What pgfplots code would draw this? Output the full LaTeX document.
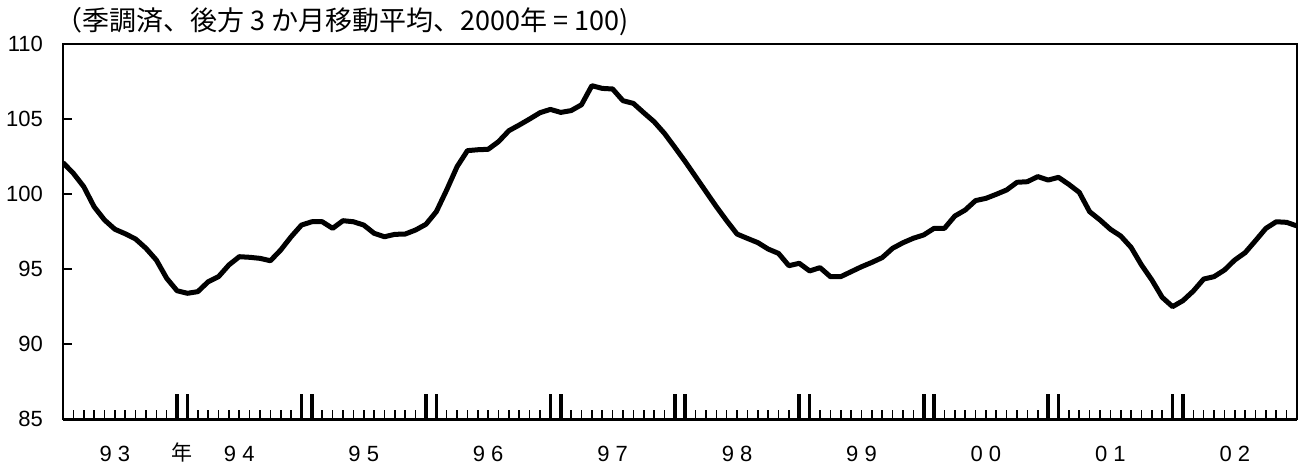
\documentclass[border=0pt]{standalone}
\usepackage{fontspec}
\setmainfont{Liberation Sans}
\newfontfamily\cjk{Noto Sans CJK JP}
\usepackage{pgfplots}
\pgfplotsset{compat=1.18}

% seasonally adjusted index, 3-month backward moving average, monthly 1993-2002
\pgfplotstableread{
m v
0 102.09
1 101.38
2 100.49
3 99.15
4 98.27
5 97.65
6 97.35
7 97.0
8 96.38
9 95.6
10 94.38
11 93.55
12 93.38
13 93.49
14 94.15
15 94.49
16 95.27
17 95.82
18 95.78
19 95.71
20 95.55
21 96.27
22 97.15
23 97.93
24 98.15
25 98.15
26 97.71
27 98.22
28 98.15
29 97.93
30 97.38
31 97.15
32 97.31
33 97.33
34 97.6
35 97.98
36 98.82
37 100.27
38 101.82
39 102.89
40 102.95
41 102.98
42 103.49
43 104.22
44 104.6
45 105.0
46 105.42
47 105.64
48 105.44
49 105.56
50 105.95
51 107.22
52 107.04
53 107.0
54 106.22
55 106.04
56 105.42
57 104.82
58 104.04
59 103.11
60 102.16
61 101.16
62 100.16
63 99.16
64 98.22
65 97.33
66 97.04
67 96.76
68 96.33
69 96.04
70 95.22
71 95.38
72 94.87
73 95.09
74 94.49
75 94.49
76 94.82
77 95.15
78 95.44
79 95.76
80 96.38
81 96.75
82 97.05
83 97.27
84 97.71
85 97.71
86 98.53
87 98.93
88 99.56
89 99.71
90 99.98
91 100.27
92 100.78
93 100.82
94 101.16
95 100.93
96 101.11
97 100.64
98 100.11
99 98.82
100 98.27
101 97.65
102 97.2
103 96.44
104 95.27
105 94.27
106 93.11
107 92.49
108 92.89
109 93.53
110 94.33
111 94.49
112 94.93
113 95.6
114 96.09
115 96.89
116 97.71
117 98.15
118 98.11
119 97.87
}\idx

\begin{document}
\begin{tikzpicture}
\begin{axis}[
    name=main,
    scale only axis,
    width=617pt, height=187.5pt,
    xmin=0, xmax=119, ymin=85, ymax=110,
    axis line style={line width=1pt, draw=black},
    tick style={black},
    tick align=inside,
    xtick pos=bottom, ytick pos=left,
    /pgf/number format/assume math mode=true,
    % y: labels from major ticks, marks drawn as minor ticks
    ytick={85,90,...,110},
    major y tick style={draw=none},
    minor ytick={90,95,...,105},
    minor y tick style={line width=1pt},
    yticklabel style={font=\fontsize{11}{13}\selectfont, xshift=-6.5pt},
    % x: bold pairs at the turn of each year, monthly minor ticks
    xtick={11,12,23,24,35,36,47,48,59,60,71,72,83,84,95,96,107,108},
    xticklabels={},
    major tick length=12.5pt,
    major x tick style={line width=1.8pt},
    minor xtick={0,...,119},
    minor tick length=4.75pt,
    minor x tick style={line width=0.8pt},
    extra x ticks={5,17,...,113},
    extra x tick labels={9 3,9 4,9 5,9 6,9 7,9 8,9 9,0 0,0 1,0 2},
    extra x tick style={major tick length=0pt},
    xticklabel style={font=\fontsize{11}{13}\selectfont, yshift=-10pt},
    title={\cjk （季調済、後方 3 か月移動平均、2000年 = 100)},
    title style={at={(0,1)}, anchor=west, inner sep=0pt, xshift=-4pt, yshift=5pt,
                 font=\fontsize{13.5}{15}\selectfont},
]
\addplot[black, line width=2.5pt, line join=round] table[x=m, y=v] {\idx};
\coordinate (nian) at (axis cs:11.5,85);
\end{axis}
% bottom frame line
\draw[black, line width=1.5pt] (main.south west) -- (main.south east);
\node[font=\cjk\fontsize{10.5}{12}\selectfont, anchor=north, yshift=-8.5pt] at (nian) {年};
\pgfresetboundingbox
\path ([shift={(-31.5pt,-23.5pt)}]main.south west)
  rectangle ([shift={(6.5pt,22pt)}]main.north east);
\end{tikzpicture}
\end{document}
